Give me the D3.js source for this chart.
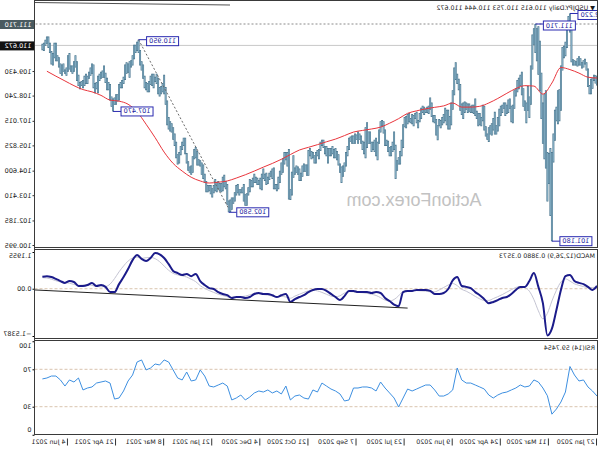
<!DOCTYPE html>
<html><head><meta charset="utf-8">
<script src="https://cdn.jsdelivr.net/npm/d3@7"></script>
<style>
body{margin:0;background:#fff}
svg{display:block}
text{font-family:"DejaVu Sans",sans-serif;fill:#1a1a1a}
</style>
</head><body>
<svg id="c" width="600" height="450"></svg>
<script>
// ---------------- DATA ----------------
const symbolTitle = "\u25BC USDJPY.Daily 110.615 110.753 110.444 110.672";
const macdTitle = "MACD(12,26,9) 0.3880 0.3573";
const rsiTitle = "RSI(14) 59.7454";
const watermark = "ActionForex.com";
const firstDay = "2020-01-27", lastDay = "2021-06-29";
const holidays = ["2020-12-25", "2021-01-01"];
const dateTicks = ["2020-01-27","2020-03-11","2020-04-24","2020-06-09","2020-07-23","2020-09-07",
  "2020-10-21","2020-12-04","2021-01-21","2021-03-08","2021-04-21","2021-06-04"];
const priceTicks = [111.710, 110.672, 109.430, 108.240, 107.015, 105.825, 104.600, 103.410, 102.185, 100.995];
const currentPrice = 110.672;
const alertPrice = 111.710;

// daily lows / highs (one per trading day, from 27 Jan 2020)
const lows = [
108.73,108.82,108.95,108.57,108.31, 108.30,108.65,109.45,109.75,109.60,
109.55,109.70,109.70,109.65,109.70, 109.70,109.70,109.85,111.30,111.50,
110.55,110.15,110.05,109.45,107.50, 107.00,106.85,107.00,106.05,105.00,
101.18,102.40,103.95,103.10,104.70, 105.15,105.90,107.10,108.45,109.25,
109.90,110.30,110.70,109.50,107.80, 107.15,107.50,106.90,107.50,107.70,
108.25,108.70,108.55,108.40,108.20, 107.60,106.90,106.95,107.60,107.40,
107.35,107.25,107.60,107.40,107.25, 106.75,106.50,106.35,106.35,106.55,
106.30,106.35,105.99,106.10,106.25, 106.55,107.00,106.75,106.80,106.75,
107.10,107.25,107.35,107.40,107.40, 107.45,107.40,107.55,107.40,107.10,
107.30,107.50,108.50,108.80,109.00, 108.25,107.55,106.80,106.60,106.60,
106.80,107.00,106.90,106.80,106.65, 106.75,106.07,106.30,106.90,106.95,
107.20,107.55,107.35,107.40,107.40, 107.30,107.40,107.10,106.95,106.65,
106.90,107.10,106.75,106.85,106.90, 106.95,106.85,106.65,106.70,105.70,
105.30,104.90,104.90,104.60,104.19, 105.60,105.50,105.30,105.30,105.50,
105.80,105.80,106.40,106.75,106.45, 105.90,105.10,105.30,105.50,105.60,
105.50,105.90,105.90,105.70,105.20, 105.40,105.60,105.90,106.10,105.90,
106.10,105.90,105.90,105.90,106.00, 105.60,105.30,104.80,104.55,104.30,
104.00,104.50,104.85,105.10,105.20, 105.20,105.40,105.30,105.30,104.95,
105.30,105.40,105.70,105.80,105.55, 105.15,105.30,104.95,104.95,105.20,
105.15,105.30,104.35,104.35,104.55, 104.55,104.30,104.10,104.10,104.40,
104.50,104.40,104.25,103.40,103.18, 103.20,104.80,105.10,104.90,104.50,
104.40,104.00,103.70,103.60,103.70, 103.70,104.20,104.30,104.15,103.95,
103.90,104.10,104.20,103.65,103.70, 103.90,103.90,104.00,104.00,103.80,
103.80,103.55,103.40,102.90,102.90, 103.10,103.50,103.50,103.40,
103.50,103.40,103.10,103.00, 102.70,102.60,102.58,102.95,103.70,
103.80,103.60,103.55,103.60,103.70, 103.55,103.60,103.50,103.30,103.45,
103.60,103.55,103.55,104.00,104.20, 104.40,104.80,104.85,104.85,105.20,
105.15,104.50,104.40,104.50,104.60, 104.95,105.40,105.80,105.60,105.35,
104.95,104.90,105.20,105.80,106.10, 106.45,106.50,106.60,106.80,107.80,
108.30,108.40,108.30,108.20,108.30, 108.80,108.90,108.60,108.70,108.75,
108.40,108.40,108.50,108.60,109.05, 109.45,109.70,110.30,110.40,110.30,
110.00,109.70,109.60,109.10,109.35, 109.30,109.00,108.80,108.60,108.60,
108.00,107.95,107.80,107.80,107.47, 107.70,108.00,108.50,108.50,108.85,
109.10,109.10,109.05,108.95,108.35, 108.55,108.35,108.60,109.30,109.20,
109.05,108.80,108.80,108.70,108.60, 108.70,108.55,108.70,108.95,109.60,
109.40,109.30,109.40,109.50,109.40, 109.20,109.30,109.40,109.20,109.30,
109.60,109.90,109.90,110.05,109.70, 109.75,110.30,110.55,110.75,110.65,
110.40,110.44];
const highs = [
109.18,109.22,109.25,109.12,109.05, 108.75,109.55,109.85,110.02,109.95,
109.85,110.05,110.15,110.05,109.90, 109.95,110.00,111.50,112.22,112.10,
111.55,110.85,110.65,110.60,109.70, 108.55,108.50,107.70,107.55,106.40,
105.50,105.70,105.45,105.50,108.50, 108.30,107.90,109.35,110.90,111.60,
111.50,111.71,111.50,111.20,109.70, 108.20,108.70,107.90,108.00,108.60,
109.40,109.25,109.10,109.00,108.60, 108.50,107.80,107.75,108.10,108.05,
107.80,107.90,107.90,107.80,107.75, 107.60,107.20,106.80,107.45,107.15,
106.90,106.80,106.70,106.40,106.75, 107.75,107.80,107.20,107.40,107.40,
107.50,108.10,107.80,107.80,107.75, 107.85,107.85,107.90,107.95,107.90,
107.85,108.80,109.05,109.30,109.85, 109.60,108.50,107.90,107.25,107.55,
107.55,107.65,107.35,107.20,107.05, 107.10,106.80,107.10,107.30,107.30,
107.90,108.15,107.75,107.70,107.60, 107.70,107.75,107.65,107.40,107.05,
107.45,107.40,107.30,107.35,107.15, 107.40,107.35,107.25,107.20,106.85,
106.10,105.55,105.25,105.10,105.85, 106.50,106.00,105.80,105.75,106.05,
106.10,106.60,107.00,107.05,107.00, 106.60,106.00,106.20,106.10,106.00,
106.00,106.50,106.50,106.95,106.70, 106.00,106.05,106.30,106.40,106.50,
106.35,106.40,106.30,106.30,106.25, 106.20,105.80,105.50,105.00,104.85,
104.80,104.95,105.40,105.55,105.70, 105.65,105.80,105.70,105.70,105.70,
105.80,105.80,106.10,106.10,106.00, 105.65,105.60,105.50,105.35,105.50,
105.55,105.70,105.60,104.90,104.90, 104.95,104.85,104.50,104.70,104.80,
104.85,104.75,105.35,104.55,103.70, 105.65,105.50,105.50,105.50,105.20,
105.00,104.60,104.30,103.95,103.95, 104.75,104.70,104.60,104.50,104.30,
104.50,104.45,104.70,104.45,104.25, 104.15,104.25,104.30,104.45,104.25,
104.15,104.20,103.80,103.50,103.45, 103.95,103.80,103.70,103.70,
103.95,103.90,103.55,103.30, 103.30,103.20,103.15,103.95,104.10,
104.40,104.30,104.00,104.00,104.10, 104.05,104.20,103.90,103.75,103.90,
103.90,103.90,104.10,104.45,104.90, 105.00,105.10,105.15,105.55,105.75,
105.65,105.30,104.85,104.80,105.05, 105.45,106.20,106.20,106.00,105.80,
105.50,105.40,106.00,106.40,106.70, 106.90,107.00,107.20,108.00,108.65,
109.25,108.85,108.70,108.65,109.10, 109.30,109.15,109.30,109.30,109.20,
108.95,108.85,108.90,109.20,109.75, 109.90,110.45,110.95,110.85,110.70,
110.70,110.20,109.95,109.90,109.80, 109.85,109.75,109.15,109.00,108.90,
108.80,108.30,108.30,108.15,108.10, 108.20,108.80,108.90,109.10,109.35,
109.70,109.45,109.40,109.30,109.20, 108.90,108.85,109.75,109.80,109.60,
109.40,109.20,109.30,109.20,109.00, 108.95,108.90,109.25,109.90,110.20,
109.90,109.70,109.70,110.30,110.20, 109.60,109.50,109.80,109.75,109.80,
110.10,110.20,110.80,110.80,110.30, 110.40,110.80,111.10,111.10,110.95,
110.80,110.75];

// moving average, one value every 6 bars
const maStep = 6;
const maValues = [
109.09,109.13,109.33,109.50,109.60,108.85,108.31,108.70,108.72,108.58,
108.35,108.10,107.88,107.72,107.68,107.68,107.88,107.74,107.67,107.60,
107.50,107.38,107.12,106.90,106.71,106.62,106.55,106.47,106.30,106.13,
106.00,105.86,105.73,105.60,105.38,105.15,104.95,104.77,104.58,104.40,
104.24,104.10,104.04,104.00,104.10,104.28,104.58,104.95,105.50,106.20,
106.85,107.45,107.82,107.97,108.02,108.25,108.42,108.53,108.72,108.95,
109.18,109.42];

// indicators, one value every 3 bars
const indStep = 3;
const macdMain = [
0.09,-0.04,0.06,0.15,0.19,0.25,0.45,0.41,-0.04,-0.69,
-1.30,-1.52,-0.47,0.06,0.51,0.25,0.06,0.06,-0.04,-0.17,
-0.27,-0.30,-0.37,-0.43,-0.47,-0.34,-0.21,-0.11,0.02,0.06,
0.09,0.38,0.27,-0.01,-0.14,-0.17,-0.17,-0.07,-0.04,-0.04,
-0.04,-0.07,-0.07,-0.11,-0.57,-0.52,-0.40,-0.30,-0.14,-0.11,
-0.14,-0.11,-0.11,-0.11,-0.07,-0.07,-0.24,-0.37,-0.27,-0.17,
-0.07,-0.01,-0.01,-0.04,-0.11,-0.21,-0.27,-0.34,-0.43,-0.17,
-0.21,-0.27,-0.21,-0.17,-0.17,-0.14,-0.17,-0.27,-0.30,-0.27,
-0.27,-0.30,-0.21,-0.17,-0.11,-0.01,0.02,0.12,0.25,0.48,
0.41,0.48,0.45,0.51,0.58,0.80,1.00,1.12,1.16,1.00,
0.90,0.97,1.10,0.93,0.64,0.38,0.15,-0.11,-0.11,0.06,
0.12,0.09,0.19,0.12,0.09,0.09,0.22,0.25,0.19,0.25,
0.32,0.38,0.41,0.39];
const macdSignal = [
0.05,0.04,0.04,0.07,0.11,0.16,0.25,0.32,0.22,-0.05,
-0.40,-0.80,-0.98,-0.72,-0.35,-0.08,0.04,0.07,0.04,-0.03,
-0.11,-0.19,-0.26,-0.32,-0.38,-0.38,-0.33,-0.25,-0.16,-0.08,
-0.02,0.10,0.17,0.12,0.04,-0.04,-0.10,-0.10,-0.08,-0.07,
-0.06,-0.06,-0.06,-0.08,-0.23,-0.35,-0.40,-0.37,-0.29,-0.22,
-0.18,-0.15,-0.13,-0.12,-0.10,-0.09,-0.14,-0.23,-0.26,-0.24,
-0.18,-0.12,-0.07,-0.05,-0.07,-0.12,-0.18,-0.24,-0.31,-0.27,
-0.25,-0.26,-0.24,-0.21,-0.19,-0.17,-0.17,-0.20,-0.24,-0.26,
-0.27,-0.28,-0.26,-0.22,-0.18,-0.12,-0.06,0.01,0.10,0.23,
0.31,0.38,0.42,0.45,0.50,0.60,0.74,0.88,0.98,1.02,
1.01,0.99,1.03,1.00,0.90,0.74,0.55,0.33,0.15,0.07,
0.06,0.07,0.11,0.13,0.12,0.11,0.14,0.18,0.20,0.22,
0.26,0.31,0.35,0.36];
const rsiValues = [
41.4,46.8,51.1,58.6,57.5,63.9,73.0,45.7,35.0,27.5,
22.0,41.7,50.0,56.4,58.6,52.1,51.1,53.2,50.0,47.9,
45.7,44.7,42.5,39.3,42.5,48.9,51.1,53.2,55.3,55.3,
58.6,71.4,47.9,43.6,41.4,41.4,47.9,53.2,53.2,51.1,
48.9,46.8,48.9,39.3,29.7,39.3,44.7,50.0,56.4,46.8,
50.0,51.1,51.1,50.0,50.0,37.2,36.1,43.6,46.8,48.9,
52.1,55.3,45.7,47.9,38.2,39.3,42.5,41.4,37.2,52.1,
43.6,46.8,44.7,47.9,45.7,46.8,44.7,40.4,37.2,42.5,
39.3,37.2,52.1,55.3,53.2,51.1,52.1,62.8,69.3,58.6,
57.5,67.1,58.6,60.7,69.3,77.8,80.0,74.6,75.7,71.4,
69.3,80.0,77.8,63.9,57.5,46.8,39.3,38.2,55.3,57.5,
56.4,55.3,51.1,50.0,47.9,60.7,56.4,58.6,52.1,58.6,
62.8,62.8,60.7,59.7];
const macdTicks = [1.1955, 0, -1.5387];
const rsiTicks = [100, 70, 30, 0];
const rsiLevels = [70, 30];

const priceMarks = [
  {date:"2020-02-20", price:112.220, kind:"high"},
  {date:"2020-03-09", price:101.180, kind:"low"},
  {date:"2020-03-24", price:111.710, kind:"high"},
  {date:"2021-01-06", price:102.580, kind:"low"},
  {date:"2021-03-31", price:110.950, kind:"high"},
  {date:"2021-04-23", price:107.470, kind:"low"}
];
const priceTrend = [["2021-03-31", 110.95], ["2021-01-06", 102.75]];
const macdTrendBars = [126, 374];
const macdTrendVals = [-0.63, -0.04];

// ---------------- CHART ----------------
const svg = d3.select("#c");
const root = svg.append("g").attr("transform", "translate(600,0) scale(-1,1)"); // mirrored picture
const iso = d3.timeFormat("%Y-%m-%d");
const parse = d3.timeParse("%Y-%m-%d");
const dates = d3.timeDay.range(parse(firstDay), d3.timeDay.offset(parse(lastDay), 1))
  .filter(d => d.getDay() % 6 !== 0 && !holidays.includes(iso(d)));
const N = Math.min(dates.length, lows.length, highs.length);
const idx = s => dates.findIndex(d => iso(d) === s);

const plotL = 3, barStep = 1.503, axisX = 565.5, frameL = 2.5;
const panels = {main: [0.5, 247.5], macd: [249.5, 338.5], rsi: [340.5, 434.5]};

const x = d3.scaleLinear().domain([0, N - 1]).range([plotL, plotL + barStep * (N - 1)]);
const yP = d3.scaleLinear().domain([100.995, 111.710]).range([245, 24]);
const yM = d3.scaleLinear().domain([-1.5387, 1.1955]).range([336, 252]);
const yR = d3.scaleLinear().domain([0, 100]).range([434.75, 341.25]);

const defs = root.append("defs");
Object.entries(panels).forEach(([k, [t, b]]) => {
  defs.append("clipPath").attr("id", "clip-" + k).append("rect")
    .attr("x", frameL).attr("y", t).attr("width", axisX - frameL).attr("height", b - t);
});

// watermark
root.append("text").attr("x", 186).attr("y", 206).attr("text-anchor", "middle")
  .style("font-family", "'Liberation Sans',Arial,sans-serif").style("font-size", "18px")
  .style("fill", "#c2c2c2").text(watermark);

// ---- main panel ----
const gMain = root.append("g").attr("clip-path", "url(#clip-main)");
gMain.append("line").attr("x1", frameL).attr("x2", axisX)
  .attr("y1", yP(alertPrice)).attr("y2", yP(alertPrice))
  .attr("stroke", "#8a8a8a").attr("stroke-dasharray", "2,2").attr("stroke-width", 1);
gMain.append("line").attr("x1", frameL).attr("x2", axisX)
  .attr("y1", yP(currentPrice)).attr("y2", yP(currentPrice))
  .attr("stroke", "#c8c8c8").attr("stroke-width", 1);
// top drawn line
root.append("line").attr("x1", axisX).attr("y1", 2.5).attr("x2", 370).attr("y2", 5)
  .attr("stroke", "#505050").attr("stroke-width", 1);

const barIdx = d3.range(N);
gMain.append("g").selectAll("line").data(barIdx).join("line")
  .attr("x1", i => x(i)).attr("x2", i => x(i))
  .attr("y1", i => yP(highs[i])).attr("y2", i => yP(lows[i]))
  .attr("stroke", "#46728a").attr("stroke-width", 1.9);
gMain.append("g").selectAll("line").data(barIdx).join("line")
  .attr("x1", i => x(i)).attr("x2", i => x(i))
  .attr("y1", i => yP(highs[i]) + 0.7).attr("y2", i => yP(lows[i]) - 0.7)
  .attr("stroke", "#93bbd0").attr("stroke-width", 0.8);

gMain.append("path").datum(maValues)
  .attr("d", d3.line().x((d, k) => x(k * maStep)).y(d => yP(d)).curve(d3.curveMonotoneX))
  .attr("fill", "none").attr("stroke", "#e8353c").attr("stroke-width", 1);

gMain.append("line")
  .attr("x1", x(idx(priceTrend[0][0]))).attr("y1", yP(priceTrend[0][1]))
  .attr("x2", x(idx(priceTrend[1][0]))).attr("y2", yP(priceTrend[1][1]))
  .attr("stroke", "#6a6a6a").attr("stroke-dasharray", "2,2").attr("stroke-width", 1);

const fmt3 = d3.format(".3f");
priceMarks.forEach(m => {
  const i = idx(m.date), bx = x(i), by = yP(m.price);
  const cy = by + (m.kind === "high" ? 1.5 : 0);
  const right = bx - 8, w = 32, h = 9;
  gMain.append("line").attr("x1", bx).attr("x2", right).attr("y1", by).attr("y2", by)
    .attr("stroke", "#2a2ab0").attr("stroke-width", 1);
  gMain.append("rect").attr("x", right - w).attr("y", cy - h / 2).attr("width", w).attr("height", h)
    .attr("fill", "#fff").attr("stroke", "#2a2ab0").attr("stroke-width", 1);
  gMain.append("text").attr("x", right - w / 2).attr("y", cy).attr("text-anchor", "middle")
    .attr("dominant-baseline", "central").style("font-size", "6.5px").style("fill", "#1c1ca0")
    .text(fmt3(m.price));
});

root.append("text").attr("x", 5).attr("y", 9.5).style("font-size", "6.3px").text(symbolTitle);

// price axis
const pAxis = root.append("g").attr("transform", `translate(${axisX},0)`)
  .call(d3.axisRight(yP).tickValues(priceTicks).tickFormat(fmt3).tickSize(2).tickPadding(1));
pAxis.select(".domain").remove();
pAxis.selectAll(".tick line").attr("stroke", "#333");
pAxis.selectAll(".tick").each(function (d) {
  const t = d3.select(this);
  if (d === alertPrice || d === currentPrice) {
    t.insert("rect", "text").attr("x", 0.5).attr("y", -4.5).attr("width", 34).attr("height", 9)
      .attr("fill", d === currentPrice ? "#111" : "#4a5b61");
  }
});
pAxis.selectAll("text").style("font-size", "6.5px").style("font-family", "'DejaVu Sans',sans-serif");

// ---- MACD panel ----
const gM = root.append("g").attr("clip-path", "url(#clip-macd)");
gM.append("line").attr("x1", frameL).attr("x2", axisX).attr("y1", yM(0)).attr("y2", yM(0))
  .attr("stroke", "#d9c4ae").attr("stroke-dasharray", "3,2");
gM.append("path").datum(macdSignal)
  .attr("d", d3.line().x((d, k) => x(k * indStep)).y(d => yM(d)).curve(d3.curveMonotoneX))
  .attr("fill", "none").attr("stroke", "#c4c4d2").attr("stroke-width", 1);
gM.append("path").datum(macdMain)
  .attr("d", d3.line().x((d, k) => x(k * indStep)).y(d => yM(d)).curve(d3.curveMonotoneX))
  .attr("fill", "none").attr("stroke", "#1b1b8a").attr("stroke-width", 2);
gM.append("line").attr("x1", x(macdTrendBars[0])).attr("y1", yM(macdTrendVals[0]))
  .attr("x2", x(macdTrendBars[1])).attr("y2", yM(macdTrendVals[1]))
  .attr("stroke", "#222").attr("stroke-width", 1);
root.append("text").attr("x", 5).attr("y", 257.5).style("font-size", "6.3px").text(macdTitle);
const mAxis = root.append("g").attr("transform", `translate(${axisX},0)`)
  .call(d3.axisRight(yM).tickValues(macdTicks).tickSize(2).tickPadding(1)
    .tickFormat(d => d === 0 ? "0.00" : d3.format(".4f")(d)));
mAxis.select(".domain").remove();
mAxis.selectAll("text").style("font-size", "6.5px")
  .attr("y", d => d === macdTicks[0] ? 3 : (d === macdTicks[2] ? -3 : 0));

// ---- RSI panel ----
const gR = root.append("g").attr("clip-path", "url(#clip-rsi)");
rsiLevels.forEach(l => gR.append("line").attr("x1", frameL).attr("x2", axisX)
  .attr("y1", yR(l)).attr("y2", yR(l)).attr("stroke", "#d9c4ae").attr("stroke-dasharray", "3,2"));
gR.append("path").datum(rsiValues)
  .attr("d", d3.line().x((d, k) => x(k * indStep)).y(d => yR(d)))
  .attr("fill", "none").attr("stroke", "#3d8fe0").attr("stroke-width", 1);
root.append("text").attr("x", 5).attr("y", 349.5).style("font-size", "6.3px").text(rsiTitle);
const rAxis = root.append("g").attr("transform", `translate(${axisX},0)`)
  .call(d3.axisRight(yR).tickValues(rsiTicks).tickSize(2).tickPadding(1));
rAxis.select(".domain").remove();
rAxis.selectAll("text").style("font-size", "6.5px")
  .attr("y", d => d === 100 ? 4 : (d === 0 ? -5 : 0));

// ---- frames ----
Object.values(panels).forEach(([t, b]) => {
  root.append("rect").attr("x", frameL).attr("y", t).attr("width", axisX - frameL).attr("height", b - t)
    .attr("fill", "none").attr("stroke", "#3a3a3a").attr("stroke-width", 1);
});
root.append("line").attr("x1", axisX).attr("x2", axisX).attr("y1", 0).attr("y2", 434.5)
  .attr("stroke", "#3a3a3a");

// ---- time axis ----
const fmtDate = d3.timeFormat("%-d %b %Y");
const tAxis = root.append("g").attr("transform", "translate(0,434.5)")
  .call(d3.axisBottom(x).tickValues(dateTicks.map(idx)).tickFormat(i => fmtDate(dates[i])).tickSize(0));
tAxis.select(".domain").remove();
tAxis.selectAll(".tick line").attr("y1", 4).attr("y2", 11).attr("stroke", "#333");
tAxis.selectAll(".tick text").attr("text-anchor", "start").attr("x", 2).attr("y", 5.5)
  .attr("dy", "0.71em").style("font-size", "6.3px").style("font-family", "'DejaVu Sans',sans-serif");
root.selectAll(".tick text").style("fill", "#1a1a1a");
pAxis.selectAll(".tick").filter(d => d === alertPrice || d === currentPrice).select("text").style("fill", "#fff");
</script>
</body></html>
